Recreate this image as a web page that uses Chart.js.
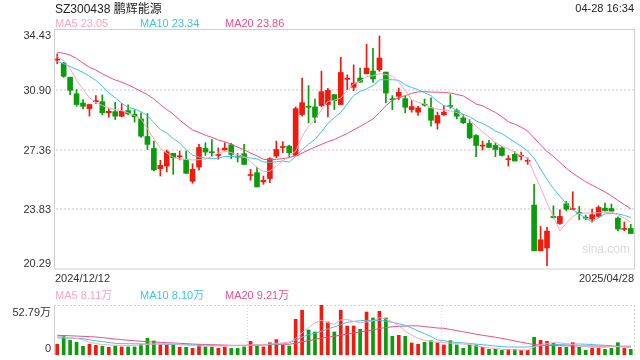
<!DOCTYPE html>
<html>
<head>
<meta charset="utf-8">
<script src="https://cdn.jsdelivr.net/npm/chart.js@4"></script>
<style>
  html, body { margin: 0; padding: 0; background: #fff; }
  #wrap { position: relative; width: 640px; height: 360px; overflow: hidden; }
  canvas { position: absolute; left: 0; top: 0; }
</style>
</head>
<body>
<div id="wrap">
  <canvas id="kline" width="640" height="360"></canvas>
  <canvas id="volume" width="640" height="360"></canvas>
</div>
<script>
// --- Data ---
const dates = [
  "12-12","12-13","12-16","12-17","12-18","12-19","12-20","12-23","12-24","12-25","12-26","12-27","12-30","12-31",
  "01-02","01-03","01-06","01-07","01-08","01-09","01-10","01-13","01-14","01-15","01-16","01-17","01-20","01-21","01-22","01-23","01-24","01-27",
  "02-05","02-06","02-07","02-10","02-11","02-12","02-13","02-14","02-17","02-18","02-19","02-20","02-21","02-24","02-25","02-26","02-27","02-28",
  "03-03","03-04","03-05","03-06","03-07","03-10","03-11","03-12","03-13","03-14","03-17","03-18","03-19","03-20","03-21","03-24","03-25","03-26","03-27","03-28","03-31",
  "04-01","04-02","04-03","04-07","04-08","04-09","04-10","04-11","04-14","04-15","04-16","04-17","04-18","04-21","04-22","04-23","04-24","04-25","04-28"
];

const opens = [
  32.65,32.47,31.63,30.66,30.11,29.78,30.19,30.19,29.53,29.60,29.33,29.66,29.45,29.17,28.13,27.42,26.23,26.38,27.13,26.93,
  26.78,25.48,26.32,27.42,27.19,27.01,27.33,27.64,26.95,27.11,25.82,25.99,25.44,25.64,26.97,27.48,27.56,27.01,29.43,29.90,
  29.88,29.96,30.02,30.61,30.02,31.51,31.04,31.59,31.84,32.00,32.08,31.94,30.33,30.51,30.37,29.72,29.57,30.04,29.82,28.92,
  29.41,29.94,29.66,29.23,28.90,28.19,27.56,27.72,27.60,27.46,26.76,27.07,26.95,26.66,24.07,21.37,21.53,23.40,22.98,24.15,
  23.81,23.59,23.32,23.24,23.40,23.89,23.87,23.30,22.63,22.69
];
const highs = [
  33.02,32.51,31.65,30.90,30.31,30.02,30.55,30.59,29.78,30.15,30.08,30.00,29.72,29.53,29.49,27.86,26.72,27.33,27.13,27.27,
  27.27,26.52,27.66,27.76,27.95,27.46,27.76,27.72,27.13,27.66,26.19,26.32,25.79,26.87,27.86,27.82,27.62,29.88,31.59,31.14,
  30.35,32.00,30.98,30.61,32.82,31.78,32.37,32.18,33.59,33.35,34.08,31.94,30.55,31.00,30.51,30.25,29.92,30.35,30.41,29.57,
  29.96,30.61,29.76,29.43,29.13,28.25,27.86,27.90,27.76,27.56,27.01,27.23,27.21,26.87,25.30,22.81,22.75,24.03,23.79,24.29,
  24.86,23.99,23.48,23.83,24.03,24.19,24.13,23.38,23.08,22.94
];
const lows = [
  32.43,31.63,30.61,29.92,29.76,29.33,30.08,29.41,29.27,29.13,29.29,29.41,28.98,28.07,27.36,26.09,25.79,26.03,25.89,26.74,
  25.95,25.36,26.13,27.01,26.97,26.78,27.33,26.82,26.62,26.48,25.54,25.15,25.30,25.40,26.87,27.17,26.91,26.97,29.33,28.94,
  28.94,29.88,29.29,29.72,30.02,30.90,30.84,31.33,31.84,31.33,31.98,30.11,29.72,30.31,29.53,29.57,29.37,29.92,28.74,28.56,
  29.37,29.80,29.17,28.90,27.99,26.93,27.33,27.48,26.93,26.97,26.38,26.68,26.74,26.48,21.37,21.37,20.49,23.30,22.93,23.73,
  23.79,23.20,23.20,23.06,23.34,23.73,23.71,22.55,22.55,22.39
];
const closes = [
  32.69,31.69,30.86,30.02,29.92,30.02,30.23,29.53,29.62,29.33,29.62,29.47,29.29,28.15,27.66,26.15,26.42,27.23,26.87,26.97,
  25.95,26.19,27.48,27.21,27.17,27.05,27.44,27.07,26.91,26.48,25.88,25.15,25.54,26.82,27.36,27.52,27.17,29.78,30.13,29.86,
  29.27,30.78,30.86,30.25,31.92,31.53,31.29,31.35,32.18,31.53,32.77,30.70,30.31,30.74,29.86,29.90,29.82,29.98,29.09,29.37,
  29.57,29.90,29.33,28.94,28.05,27.60,27.60,27.48,27.36,27.01,26.80,26.68,26.97,26.70,21.37,22.02,22.53,23.33,23.40,23.83,
  23.85,23.57,23.30,23.50,23.93,23.73,23.71,22.65,22.67,22.39
];

const ma5 = [
  32.86,32.62,32.15,31.45,30.92,30.42,30.15,29.96,29.82,29.72,29.66,29.53,29.37,29.15,28.60,27.98,27.45,27.15,26.90,26.80,
  26.77,26.74,26.76,26.80,26.95,27.15,27.25,27.18,27.05,26.95,26.65,26.30,26.05,26.08,26.38,26.68,27.00,27.25,28.13,28.74,
  29.13,29.70,30.21,30.28,30.40,30.85,31.25,31.40,31.68,31.72,31.85,31.80,31.70,31.35,30.85,30.30,30.15,30.05,29.82,29.75,
  29.70,29.65,29.55,29.35,29.10,28.75,28.40,28.10,27.76,27.55,27.40,27.18,27.00,26.85,25.95,25.10,24.20,23.40,22.55,23.00,
  23.40,23.58,23.60,23.60,23.62,23.62,23.66,23.50,23.30,23.05
];
const ma10 = [
  32.57,32.43,32.27,32.10,31.92,31.70,31.45,31.10,30.72,30.42,30.10,29.85,29.75,29.60,29.35,28.95,28.55,28.33,28.00,27.75,
  27.35,27.03,26.92,26.85,26.82,26.85,26.95,26.95,26.93,26.88,26.86,26.80,26.62,26.60,26.63,26.68,26.62,26.95,27.35,27.68,
  27.95,28.40,28.90,29.25,29.55,30.05,30.55,30.80,30.95,31.15,31.48,31.49,31.49,31.45,31.19,31.03,30.90,30.72,30.55,30.21,
  29.95,29.90,29.65,29.45,29.30,29.05,28.90,28.70,28.45,28.30,28.05,27.80,27.55,27.27,26.85,26.20,25.60,25.05,24.60,24.15,
  23.80,23.55,23.30,23.07,23.33,23.55,23.58,23.55,23.46,23.34
];
const ma20 = [
  33.12,33.05,32.94,32.75,32.47,32.22,32.06,31.84,31.65,31.47,31.35,31.18,31.00,30.80,30.60,30.35,30.02,29.72,29.45,29.10,
  28.80,28.52,28.37,28.20,28.08,27.92,27.82,27.66,27.50,27.35,27.15,26.98,26.78,26.75,26.78,26.82,26.88,27.00,27.15,27.33,
  27.50,27.66,27.82,27.95,28.13,28.31,28.52,28.72,28.95,29.17,29.55,29.95,30.27,30.41,30.55,30.68,30.77,30.78,30.76,30.75,
  30.74,30.70,30.62,30.53,30.30,30.05,29.95,29.75,29.55,29.30,29.00,28.85,28.68,28.45,28.05,27.62,27.25,26.95,26.60,26.25,
  25.95,25.70,25.45,25.25,25.05,24.85,24.62,24.35,24.10,23.86
];

// volume in 万手
const volumes = [
  11.3,20.4,15.5,13.4,9.2,11.3,10.2,9.2,8.1,9.5,8.5,8.5,8.5,11.3,17.6,14.8,10.6,10.6,10.6,8.1,
  8.1,7.0,10.9,8.5,8.5,7.0,8.5,7.0,7.0,8.5,14.4,9.5,8.5,13.0,16.2,10.2,9.5,37.7,47.2,26.4,
  24.3,52.79,34.8,24.3,47.2,30.6,30.6,27.1,45.4,39.1,46.1,39.1,19.7,20.8,19.7,12.7,11.3,13.4,15.1,13.0,
  10.6,15.1,10.6,7.0,10.6,10.6,8.1,6.0,6.0,4.9,6.0,6.0,4.9,4.9,18.7,15.5,14.4,12.3,8.1,8.1,
  13.0,8.1,4.9,7.0,7.0,6.0,7.0,13.0,7.0,6.0
];
const volMa5 = [
  19.7,19.0,18.2,17.5,16.0,13.5,12.0,11.0,10.6,10.3,10.2,10.0,10.2,10.6,11.3,11.6,12.0,12.0,11.8,11.2,
  10.5,10.0,9.6,9.5,9.5,9.5,9.6,9.8,10.0,10.2,10.5,10.8,11.2,11.6,12.5,12.8,13.5,17.5,23.5,29.0,
  34.0,36.6,34.0,32.5,37.0,37.5,35.5,34.0,35.0,36.0,39.4,38.0,35.0,31.0,25.0,21.0,17.5,15.5,14.5,13.5,
  13.0,12.5,12.0,11.5,11.0,9.5,8.5,7.5,6.8,6.0,5.5,5.4,5.3,5.3,8.4,11.0,12.0,13.0,12.8,12.0,
  10.9,10.0,9.0,8.2,8.0,8.2,8.8,8.8,8.4,8.11
];
const volMa10 = [
  18.0,18.0,17.8,17.5,17.2,16.0,15.0,14.2,13.2,12.3,12.0,11.9,11.8,11.7,11.6,11.6,11.5,11.3,11.1,10.9,
  10.9,10.7,10.5,10.3,10.2,10.1,10.0,9.9,9.9,9.9,10.2,10.5,10.8,11.1,11.3,11.8,13.0,15.5,19.0,21.5,
  23.0,25.0,27.5,29.6,32.0,34.5,35.5,36.2,36.6,36.5,36.6,35.8,34.5,33.0,31.3,28.5,25.5,22.5,19.5,16.0,
  15.0,14.0,13.2,12.8,12.2,11.5,10.9,10.2,9.5,8.8,8.45,8.4,8.4,8.45,9.0,9.8,10.5,10.9,11.2,11.4,
  11.6,11.6,11.4,11.0,10.6,10.2,9.6,9.0,8.6,8.10
];
const volMa20 = [
  20.8,20.5,20.3,20.0,19.7,19.4,19.0,18.3,17.6,16.9,16.2,15.5,15.0,14.5,14.1,13.7,13.4,13.0,12.7,12.3,
  12.0,11.6,11.3,11.1,10.9,10.7,10.5,10.2,10.2,10.2,10.4,10.5,10.7,10.9,11.1,11.3,11.3,12.5,14.0,15.1,
  16.5,17.8,18.8,19.8,21.0,22.0,23.2,24.4,25.5,26.5,28.0,29.0,29.8,30.3,30.6,30.8,30.8,30.0,29.3,28.5,
  28.2,27.0,25.8,24.5,23.3,22.0,20.8,19.8,18.8,17.6,16.2,14.9,13.5,12.2,11.0,10.5,10.2,10.0,9.8,9.7,
  9.6,9.6,9.5,9.5,9.4,9.4,9.3,9.3,9.25,9.21
];

const priceTicks = [20.29, 23.83, 27.36, 30.90, 34.43];
const volTicks = [0, 52.79];
const volTickLabels = ["0", "52.79万"];
const priceMaLabels = ["MA5 23.05", "MA10 23.34", "MA20 23.86"];
const volMaLabels = ["MA5 8.11万", "MA10 8.10万", "MA20 9.21万"];
const titleText = "SZ300438 鹏辉能源";
const timeText = "04-28 16:34";
const firstDate = "2024/12/12";
const lastDate = "2025/04/28";

// --- Styles ---
const RED = "#f2190f";
const GREEN = "#0a9c0a";
const C_MA5 = "#f8a5c4";
const C_MA10 = "#3ec4e6";
const C_MA20 = "#ee4d85";
const FONT = "'Liberation Sans', Arial, 'Noto Sans CJK SC', sans-serif";
const LEFT = 54, RIGHT = 634;

const candleColors = opens.map((o, i) => closes[i] >= o ? RED : GREEN);
const bodies = opens.map((o, i) => [Math.min(o, closes[i]), Math.max(o, closes[i])]);
const wicks = lows.map((l, i) => [l, highs[i]]);

function maLine(data, color) {
  return { type: 'line', data, borderColor: color, borderWidth: 1, pointRadius: 0, tension: 0, order: 0 };
}

function dottedH(ctx, y, x0, x1, color, width, dash) {
  ctx.save();
  ctx.strokeStyle = color;
  ctx.lineWidth = width;
  ctx.setLineDash(dash);
  ctx.beginPath();
  ctx.moveTo(x0, y);
  ctx.lineTo(x1, y);
  ctx.stroke();
  ctx.restore();
}

function dottedV(ctx, x, y0, y1, color, width, dash) {
  ctx.save();
  ctx.strokeStyle = color;
  ctx.lineWidth = width;
  ctx.setLineDash(dash);
  ctx.beginPath();
  ctx.moveTo(x, y0);
  ctx.lineTo(x, y1);
  ctx.stroke();
  ctx.restore();
}

function drawLegend(ctx, labels, y) {
  const colors = [C_MA5, C_MA10, C_MA20];
  const xs = [55, 140, 225];
  ctx.font = "11px " + FONT;
  ctx.textAlign = "left";
  ctx.textBaseline = "alphabetic";
  labels.forEach((t, i) => {
    ctx.fillStyle = colors[i];
    ctx.fillText(t, xs[i], y);
  });
}

// --- Price chart decorations ---
const pricePlugin = {
  id: 'priceDeco',
  beforeDatasetsDraw(chart) {
    const ctx = chart.ctx;
    const ys = chart.scales.y;
    const a = chart.chartArea;
    priceTicks.slice(1, -1).forEach(v => {
      dottedH(ctx, Math.round(ys.getPixelForValue(v)), a.left + 2, a.right, "#e4e4e4", 2, [2, 2]);
    });
    // watermark
    ctx.save();
    ctx.font = "12px " + FONT;
    ctx.fillStyle = "#d9d9d9";
    ctx.textAlign = "left";
    ctx.fillText("sina.com", 582, 253);
    ctx.restore();
  },
  afterDraw(chart) {
    const ctx = chart.ctx;
    const ys = chart.scales.y;
    const a = chart.chartArea;
    ctx.save();
    // frame
    ctx.strokeStyle = "#d0d0d0";
    ctx.lineWidth = 1;
    ctx.strokeRect(a.left + 0.5, a.top - 0.5, a.right - a.left, a.bottom - a.top + 0.5);

    // title and time
    ctx.fillStyle = "#222";
    ctx.font = "12px " + FONT;
    ctx.textBaseline = "alphabetic";
    ctx.textAlign = "left";
    ctx.fillText(titleText, 55, 13);
    ctx.font = "11px " + FONT;
    ctx.textAlign = "right";
    ctx.fillText(timeText, 634, 12);

    drawLegend(ctx, priceMaLabels, 27);

    // price ticks
    ctx.font = "11px " + FONT;
    ctx.fillStyle = "#333";
    ctx.textAlign = "right";
    priceTicks.forEach((v, i) => {
      let y = ys.getPixelForValue(v) + 4;
      if (i === priceTicks.length - 1) y = 38.5;
      if (i === 0) y = 266.5;
      ctx.fillText(v.toFixed(2), 51, y);
    });

    // dates
    ctx.textAlign = "left";
    ctx.fillText(firstDate, 55, 282);
    ctx.textAlign = "right";
    ctx.fillText(lastDate, 634, 282);
    ctx.restore();
  }
};

new Chart(document.getElementById('kline'), {
  type: 'bar',
  data: {
    labels: dates,
    datasets: [
      maLine(ma5, C_MA5),
      maLine(ma10, C_MA10),
      maLine(ma20, C_MA20),
      { data: bodies, backgroundColor: candleColors, barThickness: 5, minBarLength: 1, grouped: false, order: 1 },
      { data: wicks, backgroundColor: candleColors, barThickness: 1, grouped: false, order: 2 }
    ]
  },
  options: {
    responsive: false,
    animation: false,
    layout: { padding: { left: LEFT, right: 640 - RIGHT, top: 30, bottom: 91 } },
    plugins: { legend: { display: false }, tooltip: { enabled: false } },
    scales: {
      x: { display: false, offset: true },
      y: { display: false, min: priceTicks[0], max: priceTicks[priceTicks.length - 1] }
    }
  },
  plugins: [pricePlugin]
});

// --- Volume chart decorations ---
const volPlugin = {
  id: 'volDeco',
  beforeDatasetsDraw(chart) {
    const ctx = chart.ctx;
    const a = chart.chartArea;
    dottedH(ctx, a.top + 0.5, a.left, a.right, "#d6d6d6", 1, [2, 2]);
    const w = (a.right - a.left) / 3;
    dottedV(ctx, Math.round(a.left + w) + 0.5, a.top, a.bottom, "#d6d6d6", 1, [1, 2]);
    dottedV(ctx, Math.round(a.left + 2 * w) + 0.5, a.top, a.bottom, "#d6d6d6", 1, [1, 2]);
    dottedV(ctx, a.right + 0.5, a.top, a.bottom, "#d6d6d6", 1, [2, 2]);
    ctx.save();
    ctx.strokeStyle = "#d0d0d0";
    ctx.lineWidth = 1;
    ctx.beginPath();
    ctx.moveTo(a.left + 0.5, a.top);
    ctx.lineTo(a.left + 0.5, a.bottom);
    ctx.stroke();
    ctx.restore();
  },
  afterDraw(chart) {
    const ctx = chart.ctx;
    ctx.save();
    drawLegend(ctx, volMaLabels, 299);
    ctx.font = "11px " + FONT;
    ctx.fillStyle = "#333";
    ctx.textAlign = "right";
    ctx.fillText(volTickLabels[1], 51, 315.5);
    ctx.fillText(volTickLabels[0], 51, 351.5);
    ctx.restore();
  }
};

new Chart(document.getElementById('volume'), {
  type: 'bar',
  data: {
    labels: dates,
    datasets: [
      maLine(volMa5, C_MA5),
      maLine(volMa10, C_MA10),
      maLine(volMa20, C_MA20),
      { data: volumes, backgroundColor: candleColors, barThickness: 3, grouped: false, order: 1 }
    ]
  },
  options: {
    responsive: false,
    animation: false,
    layout: { padding: { left: LEFT, right: 640 - RIGHT, top: 305, bottom: 5 } },
    plugins: { legend: { display: false }, tooltip: { enabled: false } },
    scales: {
      x: { display: false, offset: true },
      y: { display: false, min: volTicks[0], max: volTicks[1] }
    }
  },
  plugins: [volPlugin]
});
</script>
</body>
</html>
